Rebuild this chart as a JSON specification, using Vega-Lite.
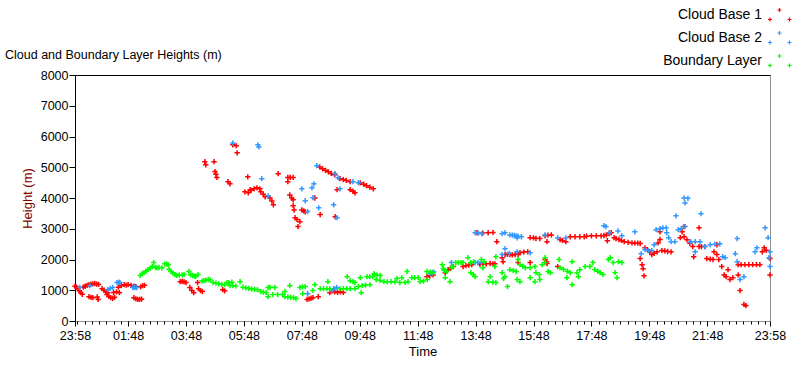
{
"$schema":"https://vega.github.io/schema/vega-lite/v6.json",
"width":695,"height":246,"autosize":"none",
"padding":{"left":75,"top":75,"right":30,"bottom":44},
"background":"white",
"title":{"text":"Cloud and Boundary Layer Heights (m)","anchor":"start","frame":"group","dx":-70,"dy":57,"offset":0,"fontSize":12.5,"fontWeight":"normal","font":"Liberation Sans Narrow, Liberation Sans, sans-serif","color":"#000000"},
"config":{"view":{"stroke":"#909090","strokeWidth":1},"axis":{"labelFont":"Liberation Sans Narrow, Liberation Sans, sans-serif","titleFont":"Liberation Sans Narrow, Liberation Sans, sans-serif","labelColor":"#000000","tickColor":"#000000","domainColor":"#000000","grid":false}},
"data":{"values":[
{"s":"CB1","t":0,"h":1130},{"s":"CB1","t":3,"h":1100},{"s":"CB1","t":6,"h":1050},{"s":"CB1","t":9,"h":980},{"s":"CB1","t":12,"h":920},{"s":"CB1","t":15,"h":870},
{"s":"CB1","t":17,"h":1100},{"s":"CB1","t":21,"h":1130},{"s":"CB1","t":25,"h":1160},{"s":"CB1","t":29,"h":1180},{"s":"CB1","t":33,"h":1200},{"s":"CB1","t":37,"h":1210},{"s":"CB1","t":41,"h":1220},{"s":"CB1","t":45,"h":1200},{"s":"CB1","t":49,"h":1190},
{"s":"CB1","t":29,"h":790},{"s":"CB1","t":33,"h":770},{"s":"CB1","t":37,"h":760},{"s":"CB1","t":46,"h":780},{"s":"CB1","t":48,"h":700},
{"s":"CB1","t":56,"h":1050},{"s":"CB1","t":60,"h":1000},{"s":"CB1","t":64,"h":950},{"s":"CB1","t":68,"h":920},
{"s":"CB1","t":66,"h":860},{"s":"CB1","t":70,"h":800},{"s":"CB1","t":74,"h":760},{"s":"CB1","t":78,"h":740},{"s":"CB1","t":82,"h":770},
{"s":"CB1","t":80,"h":930},{"s":"CB1","t":86,"h":950},{"s":"CB1","t":92,"h":920},
{"s":"CB1","t":90,"h":1100},{"s":"CB1","t":96,"h":1150},{"s":"CB1","t":102,"h":1180},{"s":"CB1","t":106,"h":1170},
{"s":"CB1","t":110,"h":1180},{"s":"CB1","t":116,"h":1160},{"s":"CB1","t":122,"h":1130},{"s":"CB1","t":126,"h":1120},
{"s":"CB1","t":122,"h":760},{"s":"CB1","t":126,"h":720},{"s":"CB1","t":130,"h":700},{"s":"CB1","t":134,"h":700},{"s":"CB1","t":138,"h":710},
{"s":"CB1","t":136,"h":1110},{"s":"CB1","t":140,"h":1150},{"s":"CB1","t":144,"h":1160},
{"s":"CB1","t":218,"h":1280},{"s":"CB1","t":222,"h":1290},{"s":"CB1","t":226,"h":1270},{"s":"CB1","t":230,"h":1250},{"s":"CB1","t":238,"h":1090},{"s":"CB1","t":242,"h":990},{"s":"CB1","t":246,"h":920},{"s":"CB1","t":254,"h":1250},{"s":"CB1","t":256,"h":1050},{"s":"CB1","t":260,"h":990},{"s":"CB1","t":264,"h":960},{"s":"CB1","t":306,"h":1020},{"s":"CB1","t":310,"h":980},
{"s":"CB1","t":481,"h":700},{"s":"CB1","t":485,"h":720},{"s":"CB1","t":489,"h":740},{"s":"CB1","t":493,"h":760},{"s":"CB1","t":504,"h":790},
{"s":"CB1","t":528,"h":920},{"s":"CB1","t":534,"h":990},{"s":"CB1","t":538,"h":950},{"s":"CB1","t":544,"h":930},{"s":"CB1","t":550,"h":950},{"s":"CB1","t":556,"h":930},
{"s":"CB1","t":729,"h":1440},{"s":"CB1","t":735,"h":1470},{"s":"CB1","t":742,"h":1500},{"s":"CB1","t":767,"h":1570},{"s":"CB1","t":773,"h":1670},{"s":"CB1","t":778,"h":1720},{"s":"CB1","t":784,"h":1770},{"s":"CB1","t":804,"h":1770},{"s":"CB1","t":810,"h":1800},{"s":"CB1","t":816,"h":1820},{"s":"CB1","t":822,"h":1830},{"s":"CB1","t":839,"h":1840},{"s":"CB1","t":845,"h":1850},{"s":"CB1","t":852,"h":1860},{"s":"CB1","t":860,"h":1870},{"s":"CB1","t":866,"h":1860},{"s":"CB1","t":870,"h":1860},
{"s":"CB1","t":874,"h":2580},{"s":"CB1","t":885,"h":2060},{"s":"CB1","t":887,"h":1930},
{"s":"CB1","t":891,"h":2160},{"s":"CB1","t":896,"h":2170},{"s":"CB1","t":901,"h":2160},{"s":"CB1","t":906,"h":2150},{"s":"CB1","t":912,"h":2160},{"s":"CB1","t":918,"h":2170},{"s":"CB1","t":922,"h":2220},{"s":"CB1","t":930,"h":2240},{"s":"CB1","t":938,"h":2250},{"s":"CB1","t":918,"h":1900},{"s":"CB1","t":943,"h":1900},{"s":"CB1","t":974,"h":2000},{"s":"CB1","t":977,"h":1930},{"s":"CB1","t":978,"h":1870},{"s":"CB1","t":1000,"h":1770},
{"s":"CB1","t":833,"h":2870},{"s":"CB1","t":845,"h":2860},{"s":"CB1","t":856,"h":2870},{"s":"CB1","t":866,"h":2880},
{"s":"CB1","t":943,"h":2710},{"s":"CB1","t":950,"h":2700},{"s":"CB1","t":955,"h":2690},{"s":"CB1","t":963,"h":2680},{"s":"CB1","t":974,"h":2770},{"s":"CB1","t":980,"h":2790},{"s":"CB1","t":987,"h":2800},{"s":"CB1","t":1005,"h":2650},{"s":"CB1","t":1010,"h":2620},{"s":"CB1","t":1017,"h":2580},{"s":"CB1","t":978,"h":2580},
{"s":"CB1","t":1026,"h":2740},{"s":"CB1","t":1036,"h":2740},{"s":"CB1","t":1046,"h":2740},{"s":"CB1","t":1055,"h":2740},{"s":"CB1","t":1060,"h":2760},{"s":"CB1","t":1070,"h":2770},{"s":"CB1","t":1080,"h":2770},{"s":"CB1","t":1090,"h":2770},{"s":"CB1","t":1096,"h":2780},{"s":"CB1","t":1101,"h":2800},{"s":"CB1","t":1107,"h":2840},{"s":"CB1","t":1111,"h":2870},{"s":"CB1","t":1103,"h":2610},{"s":"CB1","t":1117,"h":2710},{"s":"CB1","t":1121,"h":2680},{"s":"CB1","t":1127,"h":2650},{"s":"CB1","t":1132,"h":2620},{"s":"CB1","t":1138,"h":2580},{"s":"CB1","t":1146,"h":2560},{"s":"CB1","t":1154,"h":2540},{"s":"CB1","t":1160,"h":2530},{"s":"CB1","t":1166,"h":2530},{"s":"CB1","t":1171,"h":2520},
{"s":"CB1","t":1181,"h":2380},{"s":"CB1","t":1186,"h":2320},{"s":"CB1","t":1191,"h":2250},{"s":"CB1","t":1171,"h":2030},{"s":"CB1","t":1175,"h":1830},{"s":"CB1","t":1177,"h":1700},{"s":"CB1","t":1179,"h":1470},
{"s":"CB1","t":1195,"h":2160},{"s":"CB1","t":1200,"h":2200},{"s":"CB1","t":1206,"h":2250},{"s":"CB1","t":1208,"h":2540},{"s":"CB1","t":1212,"h":2650},{"s":"CB1","t":1212,"h":2900},{"s":"CB1","t":1216,"h":2290},{"s":"CB1","t":1222,"h":2280},{"s":"CB1","t":1228,"h":2260},{"s":"CB1","t":1235,"h":2250},
{"s":"CB1","t":1254,"h":2710},{"s":"CB1","t":1258,"h":2900},{"s":"CB1","t":1262,"h":3070},{"s":"CB1","t":1262,"h":2740},{"s":"CB1","t":1268,"h":2640},{"s":"CB1","t":1274,"h":2530},{"s":"CB1","t":1280,"h":2420},{"s":"CB1","t":1282,"h":2090},{"s":"CB1","t":1293,"h":3030},{"s":"CB1","t":1293,"h":2420},{"s":"CB1","t":1298,"h":2420},{"s":"CB1","t":1305,"h":2420},
{"s":"CB1","t":1309,"h":2030},{"s":"CB1","t":1316,"h":2010},{"s":"CB1","t":1322,"h":2000},{"s":"CB1","t":1324,"h":2250},{"s":"CB1","t":1330,"h":2480},{"s":"CB1","t":1330,"h":2160},{"s":"CB1","t":1334,"h":2000},{"s":"CB1","t":1340,"h":1770},{"s":"CB1","t":1345,"h":1500},{"s":"CB1","t":1349,"h":1440},{"s":"CB1","t":1353,"h":1670},{"s":"CB1","t":1357,"h":1350},{"s":"CB1","t":1363,"h":1410},{"s":"CB1","t":1374,"h":1500},{"s":"CB1","t":1378,"h":990},{"s":"CB1","t":1386,"h":540},{"s":"CB1","t":1390,"h":500},
{"s":"CB1","t":1374,"h":1830},{"s":"CB1","t":1380,"h":1830},{"s":"CB1","t":1388,"h":1830},{"s":"CB1","t":1396,"h":1830},{"s":"CB1","t":1404,"h":1830},{"s":"CB1","t":1412,"h":1830},{"s":"CB1","t":1419,"h":1830},{"s":"CB1","t":1424,"h":2250},{"s":"CB1","t":1428,"h":2380},{"s":"CB1","t":1440,"h":2030},{"s":"CB1","t":1440,"h":1500},{"s":"CB1","t":1432,"h":2300},
{"s":"CB1","t":269,"h":5180},{"s":"CB1","t":271,"h":5080},{"s":"CB1","t":288,"h":5180},{"s":"CB1","t":290,"h":4860},{"s":"CB1","t":292,"h":4770},{"s":"CB1","t":294,"h":4670},{"s":"CB1","t":327,"h":5730},{"s":"CB1","t":334,"h":5700},{"s":"CB1","t":336,"h":5470},{"s":"CB1","t":317,"h":4530},{"s":"CB1","t":321,"h":4460},{"s":"CB1","t":358,"h":4690},{"s":"CB1","t":352,"h":4200},{"s":"CB1","t":363,"h":4270},{"s":"CB1","t":359,"h":4170},{"s":"CB1","t":365,"h":4250},{"s":"CB1","t":371,"h":4300},{"s":"CB1","t":377,"h":4330},{"s":"CB1","t":383,"h":4300},{"s":"CB1","t":385,"h":4200},{"s":"CB1","t":390,"h":4120},{"s":"CB1","t":394,"h":4040},{"s":"CB1","t":404,"h":4000},{"s":"CB1","t":408,"h":3900},{"s":"CB1","t":411,"h":3780},{"s":"CB1","t":421,"h":4790},{"s":"CB1","t":441,"h":4670},{"s":"CB1","t":446,"h":4670},{"s":"CB1","t":452,"h":4670},{"s":"CB1","t":441,"h":4530},{"s":"CB1","t":445,"h":4100},{"s":"CB1","t":449,"h":4000},{"s":"CB1","t":452,"h":3940},{"s":"CB1","t":452,"h":3750},{"s":"CB1","t":454,"h":3610},{"s":"CB1","t":470,"h":3610},{"s":"CB1","t":474,"h":3580},{"s":"CB1","t":477,"h":3550},{"s":"CB1","t":456,"h":3360},{"s":"CB1","t":460,"h":3300},{"s":"CB1","t":466,"h":3230},{"s":"CB1","t":462,"h":3070},{"s":"CB1","t":508,"h":3460},{"s":"CB1","t":497,"h":4000},{"s":"CB1","t":507,"h":5010},{"s":"CB1","t":513,"h":4950},{"s":"CB1","t":519,"h":4900},{"s":"CB1","t":525,"h":4850},{"s":"CB1","t":531,"h":4800},{"s":"CB1","t":538,"h":4760},{"s":"CB1","t":549,"h":4630},{"s":"CB1","t":556,"h":4600},{"s":"CB1","t":562,"h":4570},{"s":"CB1","t":570,"h":4530},{"s":"CB1","t":543,"h":4270},{"s":"CB1","t":570,"h":4270},{"s":"CB1","t":576,"h":4220},{"s":"CB1","t":580,"h":4170},{"s":"CB1","t":591,"h":4490},{"s":"CB1","t":598,"h":4450},{"s":"CB1","t":604,"h":4400},{"s":"CB1","t":611,"h":4350},{"s":"CB1","t":618,"h":4300},{"s":"CB1","t":539,"h":3390},
{"s":"CB2","t":10,"h":1090},{"s":"CB2","t":31,"h":1150},{"s":"CB2","t":68,"h":1020},{"s":"CB2","t":73,"h":1060},{"s":"CB2","t":78,"h":1090},{"s":"CB2","t":87,"h":1250},{"s":"CB2","t":91,"h":1260},{"s":"CB2","t":93,"h":1250},{"s":"CB2","t":120,"h":1090},{"s":"CB2","t":124,"h":1090},{"s":"CB2","t":128,"h":1090},
{"s":"CB2","t":482,"h":890},{"s":"CB2","t":532,"h":990},{"s":"CB2","t":536,"h":1050},{"s":"CB2","t":542,"h":1090},{"s":"CB2","t":736,"h":1540},{"s":"CB2","t":740,"h":1570},{"s":"CB2","t":743,"h":1600},{"s":"CB2","t":780,"h":1900},{"s":"CB2","t":829,"h":1900},{"s":"CB2","t":835,"h":1900},{"s":"CB2","t":842,"h":1900},
{"s":"CB2","t":829,"h":2870},{"s":"CB2","t":836,"h":2860},{"s":"CB2","t":843,"h":2840},{"s":"CB2","t":885,"h":2840},{"s":"CB2","t":891,"h":2870},{"s":"CB2","t":901,"h":2800},{"s":"CB2","t":906,"h":2790},{"s":"CB2","t":910,"h":2780},{"s":"CB2","t":914,"h":2770},{"s":"CB2","t":918,"h":2760},{"s":"CB2","t":925,"h":2740},{"s":"CB2","t":916,"h":2700},{"s":"CB2","t":891,"h":2350},{"s":"CB2","t":885,"h":2160},{"s":"CB2","t":900,"h":2200},{"s":"CB2","t":916,"h":2250},{"s":"CB2","t":943,"h":2220},{"s":"CB2","t":974,"h":2800},{"s":"CB2","t":1000,"h":2700},{"s":"CB2","t":1017,"h":2700},{"s":"CB2","t":1096,"h":3100},{"s":"CB2","t":1100,"h":3070},{"s":"CB2","t":1107,"h":2870},{"s":"CB2","t":1125,"h":2930},{"s":"CB2","t":1133,"h":2770},{"s":"CB2","t":1160,"h":2900},
{"s":"CB2","t":1173,"h":2190},{"s":"CB2","t":1181,"h":2320},{"s":"CB2","t":1188,"h":2290},{"s":"CB2","t":1195,"h":2290},{"s":"CB2","t":1200,"h":2480},{"s":"CB2","t":1204,"h":2970},{"s":"CB2","t":1212,"h":3000},{"s":"CB2","t":1218,"h":3030},{"s":"CB2","t":1225,"h":3030},{"s":"CB2","t":1226,"h":2870},{"s":"CB2","t":1230,"h":2710},{"s":"CB2","t":1235,"h":2580},{"s":"CB2","t":1243,"h":2580},{"s":"CB2","t":1245,"h":3420},{"s":"CB2","t":1250,"h":2970},{"s":"CB2","t":1256,"h":3000},{"s":"CB2","t":1264,"h":3070},{"s":"CB2","t":1262,"h":4000},{"s":"CB2","t":1264,"h":3840},{"s":"CB2","t":1270,"h":3990},{"s":"CB2","t":1276,"h":2580},{"s":"CB2","t":1285,"h":2580},{"s":"CB2","t":1297,"h":3490},{"s":"CB2","t":1295,"h":2580},{"s":"CB2","t":1305,"h":2420},{"s":"CB2","t":1316,"h":2480},{"s":"CB2","t":1326,"h":2500},{"s":"CB2","t":1336,"h":2510},{"s":"CB2","t":1285,"h":2250},{"s":"CB2","t":1342,"h":2090},{"s":"CB2","t":1347,"h":2060},{"s":"CB2","t":1368,"h":2190},{"s":"CB2","t":1372,"h":1930},{"s":"CB2","t":1372,"h":2680},{"s":"CB2","t":1378,"h":1350},{"s":"CB2","t":1386,"h":1440},{"s":"CB2","t":1409,"h":2250},{"s":"CB2","t":1413,"h":2380},{"s":"CB2","t":1430,"h":3030},{"s":"CB2","t":1436,"h":2710},{"s":"CB2","t":1438,"h":2060},{"s":"CB2","t":1440,"h":1770},{"s":"CB2","t":1440,"h":2250},
{"s":"CB2","t":327,"h":5790},{"s":"CB2","t":379,"h":5730},{"s":"CB2","t":381,"h":5660},{"s":"CB2","t":387,"h":4630},{"s":"CB2","t":400,"h":4070},{"s":"CB2","t":470,"h":4300},{"s":"CB2","t":477,"h":3910},{"s":"CB2","t":491,"h":4330},{"s":"CB2","t":495,"h":4460},{"s":"CB2","t":493,"h":4010},{"s":"CB2","t":505,"h":3680},{"s":"CB2","t":501,"h":5050},{"s":"CB2","t":536,"h":3780},{"s":"CB2","t":543,"h":3360},{"s":"CB2","t":539,"h":4790},{"s":"CB2","t":545,"h":4660},{"s":"CB2","t":549,"h":4300},{"s":"CB2","t":576,"h":4530},{"s":"CB2","t":587,"h":4500},{"s":"CB2","t":482,"h":3560},
{"s":"BL","t":135,"h":1480},{"s":"BL","t":139,"h":1540},{"s":"BL","t":143,"h":1570},{"s":"BL","t":147,"h":1620},{"s":"BL","t":151,"h":1670},{"s":"BL","t":156,"h":1720},{"s":"BL","t":160,"h":1770},{"s":"BL","t":163,"h":1900},{"s":"BL","t":167,"h":1740},{"s":"BL","t":170,"h":1730},{"s":"BL","t":174,"h":1740},{"s":"BL","t":180,"h":1730},{"s":"BL","t":186,"h":1860},{"s":"BL","t":190,"h":1850},{"s":"BL","t":193,"h":1830},{"s":"BL","t":195,"h":1680},{"s":"BL","t":199,"h":1610},{"s":"BL","t":203,"h":1560},{"s":"BL","t":207,"h":1510},{"s":"BL","t":211,"h":1480},{"s":"BL","t":216,"h":1490},{"s":"BL","t":222,"h":1500},{"s":"BL","t":226,"h":1510},{"s":"BL","t":236,"h":1610},{"s":"BL","t":240,"h":1500},{"s":"BL","t":244,"h":1480},{"s":"BL","t":248,"h":1460},{"s":"BL","t":250,"h":1450},{"s":"BL","t":255,"h":1510},{"s":"BL","t":263,"h":1300},{"s":"BL","t":267,"h":1310},{"s":"BL","t":271,"h":1330},{"s":"BL","t":276,"h":1350},{"s":"BL","t":280,"h":1340},{"s":"BL","t":286,"h":1250},{"s":"BL","t":292,"h":1230},{"s":"BL","t":298,"h":1210},{"s":"BL","t":304,"h":1190},{"s":"BL","t":310,"h":1180},{"s":"BL","t":315,"h":1250},{"s":"BL","t":319,"h":1250},{"s":"BL","t":325,"h":1260},{"s":"BL","t":321,"h":1150},{"s":"BL","t":327,"h":1150},{"s":"BL","t":333,"h":1140},{"s":"BL","t":342,"h":1280},{"s":"BL","t":348,"h":1100},{"s":"BL","t":354,"h":1080},{"s":"BL","t":360,"h":1060},{"s":"BL","t":366,"h":1040},{"s":"BL","t":372,"h":1030},{"s":"BL","t":378,"h":1020},{"s":"BL","t":385,"h":960},{"s":"BL","t":390,"h":940},{"s":"BL","t":396,"h":920},{"s":"BL","t":400,"h":1090},{"s":"BL","t":400,"h":790},{"s":"BL","t":404,"h":1090},{"s":"BL","t":414,"h":1090},{"s":"BL","t":410,"h":860},{"s":"BL","t":420,"h":860},{"s":"BL","t":430,"h":860},{"s":"BL","t":435,"h":960},{"s":"BL","t":445,"h":1150},{"s":"BL","t":435,"h":790},{"s":"BL","t":441,"h":780},{"s":"BL","t":447,"h":770},{"s":"BL","t":453,"h":760},{"s":"BL","t":458,"h":730},{"s":"BL","t":466,"h":1090},{"s":"BL","t":471,"h":1110},{"s":"BL","t":477,"h":1120},{"s":"BL","t":472,"h":890},{"s":"BL","t":497,"h":1180},{"s":"BL","t":493,"h":990},{"s":"BL","t":508,"h":1050},{"s":"BL","t":515,"h":1050},{"s":"BL","t":522,"h":1050},{"s":"BL","t":528,"h":1050},{"s":"BL","t":524,"h":1280},{"s":"BL","t":549,"h":1050},{"s":"BL","t":556,"h":1050},{"s":"BL","t":563,"h":1050},{"s":"BL","t":570,"h":1050},{"s":"BL","t":580,"h":1050},{"s":"BL","t":564,"h":1440},{"s":"BL","t":570,"h":1310},{"s":"BL","t":576,"h":1280},{"s":"BL","t":580,"h":1250},{"s":"BL","t":591,"h":1410},{"s":"BL","t":587,"h":1120},{"s":"BL","t":595,"h":1150},{"s":"BL","t":602,"h":1170},{"s":"BL","t":611,"h":1180},{"s":"BL","t":593,"h":920},{"s":"BL","t":605,"h":1440},{"s":"BL","t":611,"h":1440},{"s":"BL","t":617,"h":1440},{"s":"BL","t":620,"h":1540},{"s":"BL","t":626,"h":1500},{"s":"BL","t":632,"h":1480},{"s":"BL","t":624,"h":1350},{"s":"BL","t":632,"h":1320},{"s":"BL","t":640,"h":1280},{"s":"BL","t":647,"h":1270},{"s":"BL","t":655,"h":1280},{"s":"BL","t":663,"h":1270},{"s":"BL","t":673,"h":1250},{"s":"BL","t":667,"h":1380},{"s":"BL","t":677,"h":1410},{"s":"BL","t":684,"h":1250},{"s":"BL","t":690,"h":1280},{"s":"BL","t":688,"h":1610},{"s":"BL","t":698,"h":1410},{"s":"BL","t":704,"h":1410},{"s":"BL","t":711,"h":1410},{"s":"BL","t":715,"h":1280},{"s":"BL","t":722,"h":1300},{"s":"BL","t":730,"h":1350},{"s":"BL","t":729,"h":1610},{"s":"BL","t":736,"h":1590},{"s":"BL","t":742,"h":1570},{"s":"BL","t":761,"h":1830},{"s":"BL","t":763,"h":1700},{"s":"BL","t":770,"h":1610},{"s":"BL","t":777,"h":1280},{"s":"BL","t":783,"h":1770},{"s":"BL","t":789,"h":1900},
{"s":"BL","t":765,"h":1650},{"s":"BL","t":767,"h":1410},{"s":"BL","t":780,"h":1730},{"s":"BL","t":794,"h":1900},{"s":"BL","t":800,"h":1900},{"s":"BL","t":804,"h":1900},{"s":"BL","t":814,"h":2060},{"s":"BL","t":820,"h":1570},{"s":"BL","t":825,"h":1510},{"s":"BL","t":820,"h":1900},{"s":"BL","t":826,"h":1930},{"s":"BL","t":829,"h":1440},{"s":"BL","t":842,"h":2000},{"s":"BL","t":848,"h":1930},{"s":"BL","t":845,"h":1730},{"s":"BL","t":856,"h":1280},{"s":"BL","t":866,"h":1260},{"s":"BL","t":872,"h":1250},{"s":"BL","t":860,"h":1440},{"s":"BL","t":872,"h":2090},{"s":"BL","t":870,"h":1770},{"s":"BL","t":885,"h":1570},{"s":"BL","t":891,"h":1440},{"s":"BL","t":888,"h":1380},{"s":"BL","t":896,"h":1120},{"s":"BL","t":901,"h":1670},{"s":"BL","t":908,"h":1640},{"s":"BL","t":914,"h":1610},{"s":"BL","t":916,"h":1350},{"s":"BL","t":922,"h":1280},{"s":"BL","t":918,"h":2000},{"s":"BL","t":922,"h":1830},{"s":"BL","t":928,"h":1780},{"s":"BL","t":933,"h":1730},{"s":"BL","t":943,"h":1730},{"s":"BL","t":953,"h":1770},{"s":"BL","t":943,"h":1410},{"s":"BL","t":953,"h":1280},{"s":"BL","t":955,"h":1570},{"s":"BL","t":962,"h":1510},{"s":"BL","t":963,"h":1350},{"s":"BL","t":968,"h":1830},{"s":"BL","t":974,"h":1900},{"s":"BL","t":974,"h":2060},{"s":"BL","t":980,"h":1610},{"s":"BL","t":985,"h":1570},{"s":"BL","t":1003,"h":2000},{"s":"BL","t":1005,"h":1730},{"s":"BL","t":1012,"h":1680},{"s":"BL","t":1020,"h":1620},{"s":"BL","t":1026,"h":1570},{"s":"BL","t":1019,"h":1410},{"s":"BL","t":1030,"h":1930},{"s":"BL","t":1030,"h":1180},{"s":"BL","t":1040,"h":1570},{"s":"BL","t":1046,"h":1670},{"s":"BL","t":1043,"h":1440},{"s":"BL","t":1057,"h":1770},{"s":"BL","t":1067,"h":1770},{"s":"BL","t":1073,"h":1900},{"s":"BL","t":1077,"h":1670},{"s":"BL","t":1083,"h":1620},{"s":"BL","t":1088,"h":1570},{"s":"BL","t":1094,"h":1510},{"s":"BL","t":1105,"h":2000},{"s":"BL","t":1109,"h":2060},{"s":"BL","t":1115,"h":1900},{"s":"BL","t":1119,"h":1570},{"s":"BL","t":1123,"h":1410},{"s":"BL","t":1126,"h":1930},{"s":"BL","t":1133,"h":1900}
]},
"layer":[
{"mark":{"type":"point","shape":"M-1,0H1M0,-1V1","size":28,"strokeWidth":1.5,"filled":false,"opacity":1},
 "encoding":{
  "x":{"field":"t","type":"quantitative","scale":{"domain":[0,1440],"nice":false,"zero":false},
   "axis":{"orient":"bottom","values":[0,110,230,350,470,590,710,830,950,1070,1190,1310,1440],"labelExpr":"timeFormat(datetime(2020,0,1,23,58+datum.value),'%H:%M')","domain":false,"tickSize":5,"labelPadding":3,"labelFontSize":12.5,"labelFlush":false,"labelOverlap":false,"title":"Time","titleFontSize":13,"titleFontWeight":"normal","titleColor":"#000000","titlePadding":4}},
  "y":{"field":"h","type":"quantitative","scale":{"domain":[0,8000],"nice":false,"zero":true},
   "axis":{"values":[0,1000,2000,3000,4000,5000,6000,7000,8000],"format":"d","domain":true,"domainColor":"#000000","tickSize":6,"labelPadding":1,"labelFontSize":12.5,"title":"Height (m)","titleFontSize":13,"titleFontWeight":"normal","titleColor":"#800000","titlePadding":6}},
  "color":{"field":"s","type":"nominal","scale":{"domain":["CB1","CB2","BL"],"range":["#FF0000","#3399FF","#00FF00"]},
   "legend":{"orient":"none","legendX":696,"legendY":-71,"direction":"vertical","title":null,"padding":0,"symbolType":"M-0.45,-0.5H-0.05M-0.25,-0.7V-0.3M-1.4,0.45H-1M-1.2,0.25V0.65M0.55,0.45H0.95M0.75,0.25V0.65","symbolSize":400,"symbolStrokeWidth":1.2,"symbolFillColor":"transparent","labelAlign":"right","labelOffset":-31,"labelFontSize":14,"labelFont":"Liberation Sans Narrow, Liberation Sans, sans-serif","labelColor":"#000000","rowPadding":3,"labelExpr":"datum.label=='CB1'?'Cloud Base 1':datum.label=='CB2'?'Cloud Base 2':'Boundary Layer'"}}
 }},
{"mark":{"type":"point","opacity":0},
 "encoding":{"x":{"field":"t","type":"quantitative","scale":{"domain":[0,1440],"nice":false,"zero":false},
  "axis":{"orient":"bottom","values":[5,20,35,50,65,80,95,110,125,140,155,170,185,200,215,230,245,260,275,290,305,320,335,350,365,380,395,410,425,440,455,470,485,500,515,530,545,560,575,590,605,620,635,650,665,680,695,710,725,740,755,770,785,800,815,830,845,860,875,890,905,920,935,950,965,980,995,1010,1025,1040,1055,1070,1085,1100,1115,1130,1145,1160,1175,1190,1205,1220,1235,1250,1265,1280,1295,1310,1325,1340,1355,1370,1385,1400,1415,1430],"labels":false,"domain":false,"tickSize":3,"title":null}}}},
{"mark":{"type":"point","opacity":0},
 "encoding":{"x":{"field":"t","type":"quantitative","scale":{"domain":[0,1440],"nice":false,"zero":false},
  "axis":{"orient":"top","labels":false,"ticks":false,"domain":true,"domainColor":"#000000","title":null}}}}
],
"resolve":{"axis":{"x":"independent"}}
}
